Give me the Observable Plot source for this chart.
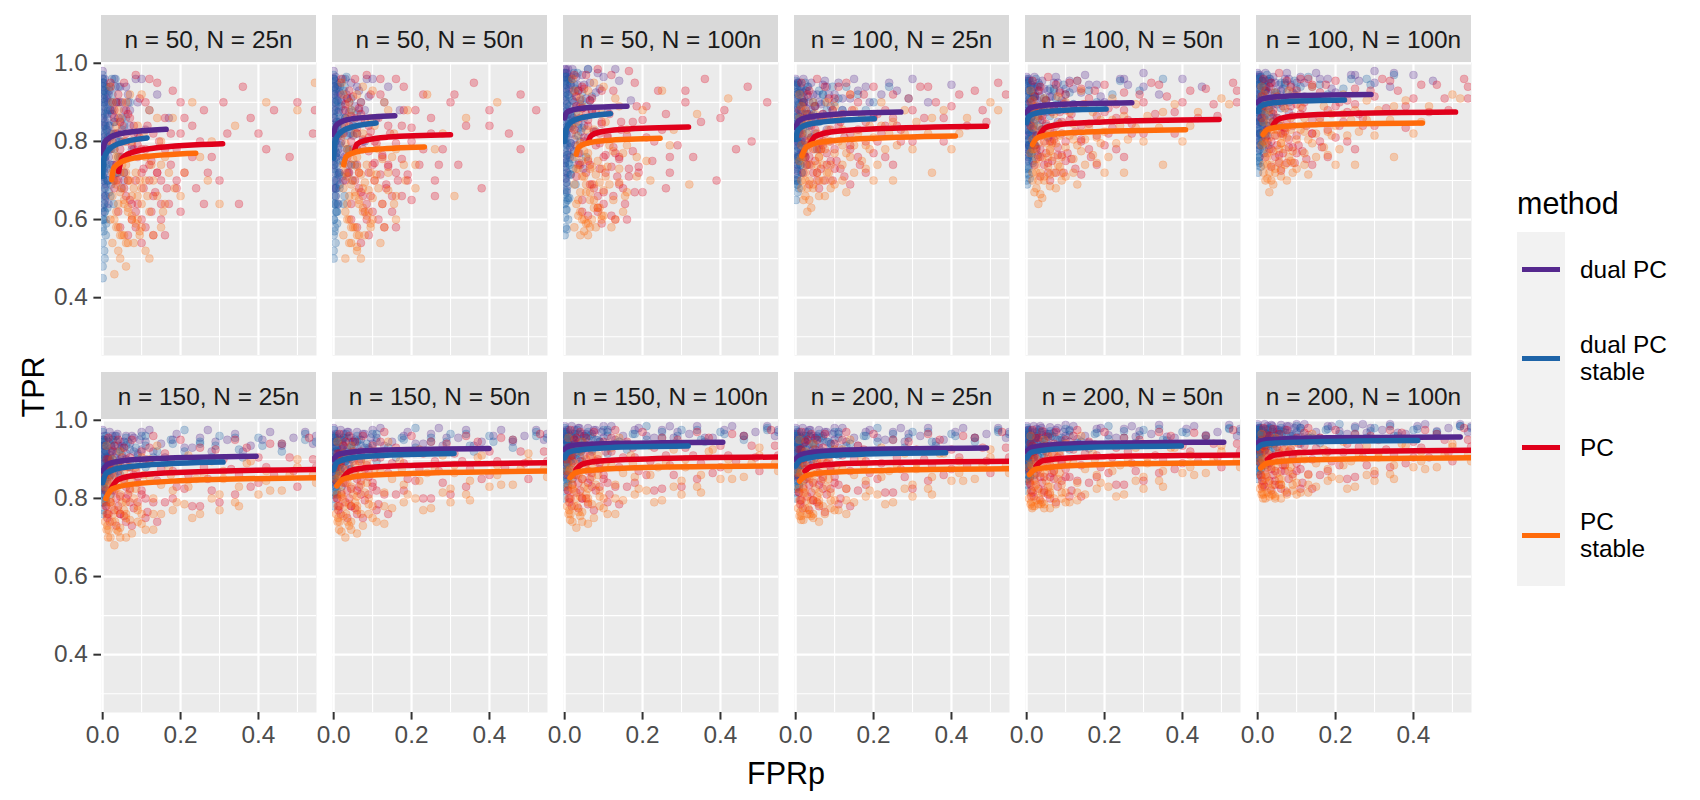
<!DOCTYPE html>
<html><head><meta charset="utf-8">
<script src="https://cdn.jsdelivr.net/npm/d3@7"></script>
<script src="https://cdn.jsdelivr.net/npm/@observablehq/plot@0.6"></script>
<style>
body{margin:0;background:#fff;font-family:"Liberation Sans",Arial,sans-serif;}
#root{position:relative;width:1700px;height:800px;overflow:hidden;background:#fff;}
.strip{position:absolute;background:#D9D9D9;color:#1A1A1A;font-size:24.4px;display:flex;align-items:center;justify-content:center;padding-top:3px;box-sizing:border-box;white-space:nowrap;}
.panel{position:absolute;}
.title{position:absolute;font-size:30.5px;color:#000;text-align:center;white-space:nowrap;}
.lgtxt{position:absolute;font-size:24.4px;color:#000;line-height:27px;white-space:nowrap;}
</style></head><body><div id="root"></div>
<script>
// ---------- data ----------
const methods = ["dual PC", "dual PC stable", "PC", "PC stable"];
const methodLabels = ["dual PC", "dual PC\nstable", "PC", "PC\nstable"];
const methodColors = ["#55288E", "#1E64A8", "#E0001B", "#FF6B0B"];
const nValues = [50, 50, 50, 100, 100, 100, 150, 150, 150, 200, 200, 200];
const NValues = ["25n", "50n", "100n", "25n", "50n", "100n", "25n", "50n", "100n", "25n", "50n", "100n"];
const xMajor = [0, 0.2, 0.4], xMinor = [0.1, 0.3, 0.5];
const yMajor = [0.4, 0.6, 0.8, 1.0], yMinor = [0.3, 0.5, 0.7, 0.9];

// fitted curves, per panel [FPRp, TPR]
const curveDualPC = [
 [[0,0.770],[0.005,0.797],[0.020,0.811],[0.057,0.822],[0.163,0.831]],
 [[0,0.817],[0.005,0.839],[0.019,0.850],[0.055,0.859],[0.157,0.866]],
 [[0,0.860],[0.005,0.874],[0.019,0.880],[0.056,0.886],[0.160,0.890]],
 [[0,0.835],[0.008,0.853],[0.032,0.862],[0.095,0.869],[0.270,0.875]],
 [[0,0.873],[0.008,0.885],[0.032,0.891],[0.095,0.895],[0.270,0.899]],
 [[0,0.899],[0.009,0.908],[0.035,0.913],[0.102,0.917],[0.291,0.920]],
 [[0,0.870],[0.012,0.887],[0.047,0.896],[0.138,0.902],[0.394,0.908]],
 [[0,0.900],[0.012,0.913],[0.048,0.919],[0.140,0.924],[0.399,0.928]],
 [[0,0.925],[0.012,0.934],[0.049,0.938],[0.142,0.941],[0.406,0.944]],
 [[0,0.900],[0.015,0.913],[0.059,0.920],[0.172,0.925],[0.490,0.929]],
 [[0,0.921],[0.015,0.931],[0.061,0.937],[0.177,0.941],[0.506,0.944]],
 [[0,0.942],[0.016,0.949],[0.062,0.952],[0.182,0.955],[0.520,0.957]]
];
const curveDualPCStable = [
 [[0,0.710],[0.003,0.755],[0.014,0.777],[0.040,0.794],[0.114,0.809]],
 [[0,0.757],[0.003,0.798],[0.013,0.818],[0.038,0.834],[0.109,0.847]],
 [[0,0.800],[0.004,0.832],[0.014,0.848],[0.041,0.860],[0.118,0.871]],
 [[0,0.805],[0.006,0.829],[0.024,0.841],[0.071,0.850],[0.202,0.858]],
 [[0,0.848],[0.006,0.864],[0.024,0.872],[0.071,0.878],[0.204,0.883]],
 [[0,0.877],[0.007,0.890],[0.027,0.897],[0.078,0.902],[0.223,0.906]],
 [[0,0.840],[0.009,0.864],[0.037,0.876],[0.108,0.885],[0.309,0.893]],
 [[0,0.874],[0.009,0.892],[0.037,0.902],[0.108,0.909],[0.309,0.915]],
 [[0,0.904],[0.010,0.918],[0.038,0.924],[0.111,0.930],[0.317,0.934]],
 [[0,0.883],[0.012,0.898],[0.046,0.906],[0.135,0.912],[0.385,0.917]],
 [[0,0.904],[0.012,0.918],[0.048,0.924],[0.139,0.930],[0.397,0.934]],
 [[0,0.929],[0.012,0.938],[0.049,0.942],[0.144,0.945],[0.411,0.948]]
];
const curvePC = [
 [[0.041,0.723],[0.049,0.755],[0.073,0.771],[0.134,0.783],[0.308,0.794]],
 [[0.053,0.774],[0.060,0.793],[0.083,0.803],[0.139,0.811],[0.300,0.817]],
 [[0.060,0.797],[0.068,0.815],[0.091,0.824],[0.150,0.831],[0.318,0.837]],
 [[0.036,0.792],[0.050,0.813],[0.090,0.824],[0.195,0.832],[0.490,0.839]],
 [[0.034,0.818],[0.048,0.835],[0.089,0.844],[0.195,0.850],[0.494,0.856]],
 [[0.040,0.843],[0.054,0.857],[0.096,0.865],[0.204,0.870],[0.508,0.875]],
 [[0.023,0.827],[0.039,0.848],[0.086,0.859],[0.207,0.867],[0.548,0.874]],
 [[0.025,0.853],[0.041,0.870],[0.088,0.879],[0.208,0.885],[0.548,0.891]],
 [[0.029,0.874],[0.045,0.888],[0.091,0.896],[0.211,0.901],[0.548,0.906]],
 [[0.024,0.870],[0.040,0.881],[0.087,0.887],[0.207,0.891],[0.548,0.895]],
 [[0.024,0.883],[0.040,0.896],[0.087,0.902],[0.207,0.907],[0.548,0.911]],
 [[0.025,0.900],[0.041,0.910],[0.088,0.916],[0.208,0.920],[0.548,0.923]]
];
const curvePCStable = [
 [[0.023,0.702],[0.029,0.733],[0.049,0.748],[0.099,0.760],[0.239,0.770]],
 [[0.026,0.740],[0.032,0.761],[0.051,0.771],[0.098,0.779],[0.233,0.786]],
 [[0.030,0.767],[0.036,0.785],[0.056,0.795],[0.105,0.802],[0.245,0.808]],
 [[0.016,0.763],[0.028,0.786],[0.063,0.798],[0.154,0.806],[0.410,0.814]],
 [[0.015,0.792],[0.027,0.809],[0.062,0.818],[0.153,0.824],[0.408,0.830]],
 [[0.014,0.818],[0.026,0.831],[0.063,0.838],[0.157,0.843],[0.423,0.847]],
 [[0.008,0.800],[0.024,0.824],[0.073,0.836],[0.197,0.845],[0.548,0.853]],
 [[0.008,0.832],[0.024,0.849],[0.073,0.858],[0.197,0.864],[0.548,0.870]],
 [[0.014,0.853],[0.030,0.867],[0.078,0.873],[0.201,0.879],[0.548,0.883]],
 [[0.010,0.844],[0.026,0.858],[0.075,0.866],[0.198,0.871],[0.548,0.876]],
 [[0.007,0.861],[0.023,0.875],[0.072,0.881],[0.196,0.887],[0.548,0.891]],
 [[0.008,0.878],[0.024,0.890],[0.073,0.896],[0.197,0.900],[0.548,0.904]]
];

// simulation points per panel, "FPRp,TPR" in thousandths
const ptsDualPC = [
 "0,980 0,960 0,940 5,920 3,900 8,880 0,860 12,860 2,840 15,900 20,940 6,820 0,800 25,880 10,800 30,960 18,840 4,760 0,740 35,820 40,900 12,720 2,700 50,860 22,780 60,940 8,660 45,760 70,880 28,700 15,640 90,820 55,700 0,620 100,960 120,880",
 "0,980 0,960 3,940 0,920 6,900 2,880 10,940 0,860 14,880 4,840 18,920 8,820 0,800 24,860 12,780 30,960 3,760 40,900 20,800 0,740 50,840 15,720 6,700 60,940 35,780 0,680 80,880 25,700 10,640 100,960 45,740 130,900",
 "0,985 0,965 3,985 6,965 0,945 9,985 4,925 12,965 0,905 15,945 7,885 20,985 0,865 25,925 10,845 30,965 3,825 40,905 18,865 0,805 50,945 14,785 60,985 35,845 6,765 0,745 80,925 25,805 100,965 45,885 2,705 130,985",
 "0,960 5,950 12,940 3,920 20,960 8,900 0,880 28,930 15,880 40,950 4,860 22,900 55,920 10,840 0,830 35,870 70,945 18,820 48,890 6,800 85,920 30,840 0,790 110,950 60,860 14,780 140,910 25,760 180,940 80,830 5,740 220,920 2,700",
 "0,965 5,955 12,945 3,930 20,965 8,910 0,895 28,940 15,895 40,955 4,875 22,915 55,930 10,860 0,850 35,885 70,950 18,840 48,905 6,825 85,930 30,860 0,815 110,955 60,880 14,800 140,925 25,785 180,945 80,850 250,960 5,770 300,940",
 "0,975 5,965 12,955 3,945 20,975 8,930 0,915 28,955 15,915 40,965 4,900 22,935 55,945 10,885 0,875 35,905 70,960 18,870 48,925 6,855 85,945 30,885 0,845 110,965 60,900 14,830 140,940 25,815 180,960 80,875 250,970 5,800 300,950 350,975",
 "0,975 4,960 10,950 2,935 18,970 7,920 0,905 26,950 14,905 38,965 3,890 22,930 55,945 10,875 0,865 35,915 75,960 18,860 50,935 6,850 95,950 30,890 120,975 80,920 150,940 190,965 230,930 270,975 320,950 380,935 430,970 490,955 540,940 0,830 60,900",
 "0,980 4,965 10,955 2,945 18,975 7,930 0,915 26,955 14,915 38,970 3,900 22,940 55,950 10,890 0,880 35,925 75,965 18,875 50,945 6,865 95,955 30,900 120,980 80,930 150,945 190,970 230,940 270,980 320,955 380,945 430,975 490,960 540,950 0,850 60,915",
 "0,985 4,975 10,965 2,955 18,985 7,945 0,935 26,965 14,935 38,980 3,925 22,955 55,965 10,915 0,905 35,945 75,975 18,900 50,960 6,890 95,970 30,925 120,985 80,950 150,960 190,980 230,955 270,985 320,965 380,955 430,985 490,970 540,960 0,875 60,935",
 "0,980 4,970 10,960 2,950 18,980 7,940 0,925 26,960 14,925 38,975 3,915 22,950 55,960 10,905 0,895 35,940 75,970 18,890 50,955 6,880 95,965 30,915 120,980 80,945 150,955 190,975 230,950 270,980 320,960 380,950 430,980 490,965 540,955 0,860 60,930",
 "0,985 4,975 10,965 2,955 18,985 7,945 0,935 26,965 14,935 38,980 3,925 22,955 55,965 10,915 0,905 35,945 75,975 18,900 50,960 6,890 95,970 30,925 120,985 80,950 150,960 190,980 230,955 270,985 320,965 380,955 430,985 490,970 540,960 0,880 60,935",
 "0,990 4,980 10,975 2,965 18,990 7,960 0,950 26,975 14,950 38,985 3,945 22,965 55,975 10,935 0,930 35,960 75,985 18,925 50,970 6,920 95,980 30,945 120,990 80,965 150,970 190,985 230,965 270,990 320,975 380,965 430,990 490,980 540,970 0,905 60,950"
];
const ptsDualPCExtra = [
 "1,950 2,930 4,910 1,890 6,870 3,850 9,830 1,810 5,790 2,770 14,810 7,750 3,730 11,910 17,930 1,710 20,880 27,820 33,940 9,690 4,680 42,800 16,760 24,740 5,640 65,900 75,780 85,960 38,720 110,830 140,920 170,860",
 "1,960 2,940 4,920 1,900 6,880 3,860 9,840 1,820 5,800 2,780 14,820 7,760 3,740 11,920 17,950 1,720 20,900 27,840 33,920 9,700 4,680 42,820 16,770 24,750 5,660 65,880 75,800 85,960 38,720 110,860 140,940 170,880",
 "1,975 2,955 4,935 1,915 6,895 3,875 9,855 1,835 5,815 2,795 14,835 7,775 3,755 11,935 17,965 1,735 20,905 27,855 33,945 9,715 4,695 42,825 16,795 24,775 5,675 65,905 75,825 85,975 38,745 110,875 140,955 170,905",
 "1,945 2,925 4,905 1,885 6,865 3,845 9,825 1,815 5,795 2,775 14,845 7,765 3,755 11,925 17,905 1,735 20,925 27,885 33,915 9,795 4,725 42,865 16,805 24,785 5,715 65,895 75,955 95,880 38,805 120,910 150,960 200,870 260,930 300,960 340,900 400,945",
 "1,955 2,935 4,915 1,895 6,880 3,865 9,845 1,835 5,815 2,800 14,865 7,790 3,785 11,940 17,920 1,780 20,940 27,905 33,930 9,820 4,760 42,880 16,830 24,810 5,750 65,915 75,965 95,900 38,830 120,935 150,970 200,900 260,945 300,975 340,920 400,960 450,940",
 "1,965 2,950 4,935 1,920 6,905 3,890 9,875 1,865 5,850 2,835 14,890 7,820 3,820 11,955 17,940 1,810 20,955 27,925 33,950 9,850 4,790 42,900 16,860 24,840 5,780 65,935 75,975 95,920 38,860 120,950 150,975 200,925 260,955 300,980 340,940 400,970 450,955",
 "1,950 2,935 5,915 1,900 8,890 3,880 12,870 1,860 6,845 15,885 4,840 20,910 30,880 45,900 60,960 70,940 90,910 110,945 130,920 160,905 180,950 210,930 250,955 290,945 340,965 360,920 410,950 460,935 520,970 548,960 25,960 40,935 100,970 280,920 3,810 8,820",
 "1,960 2,945 5,930 1,915 8,905 3,895 12,885 1,875 6,865 15,900 4,860 20,925 30,895 45,915 60,970 70,950 90,925 110,955 130,935 160,920 180,960 210,940 250,965 290,955 340,975 360,935 410,960 460,945 520,975 548,965 25,965 40,945 100,975 280,935 3,835 8,845",
 "1,970 2,960 5,950 1,940 8,930 3,920 12,910 1,900 6,890 15,925 4,885 20,945 30,920 45,935 60,980 70,965 90,945 110,970 130,950 160,940 180,975 210,960 250,975 290,970 340,985 360,955 410,975 460,960 520,985 548,975 25,975 40,960 100,985 280,955 3,860 8,870",
 "1,965 2,955 5,940 1,930 8,920 3,910 12,900 1,890 6,880 15,915 4,875 20,940 30,910 45,925 60,975 70,960 90,940 110,965 130,945 160,935 180,970 210,955 250,970 290,965 340,980 360,945 410,970 460,955 520,980 548,970 25,970 40,955 100,980 280,945 3,850 8,860",
 "1,972 2,962 5,952 1,942 8,932 3,922 12,912 1,902 6,895 15,928 4,890 20,948 30,925 45,938 60,982 70,968 90,948 110,972 130,952 160,942 180,978 210,962 250,978 290,972 340,988 360,958 410,978 460,962 520,988 548,978 25,978 40,962 100,988 280,958 3,870 8,880",
 "1,978 2,970 5,962 1,955 8,948 3,940 12,932 1,925 6,918 15,942 4,912 20,958 30,940 45,952 60,988 70,976 90,960 110,980 130,962 160,955 180,985 210,972 250,984 290,980 340,990 360,968 410,985 460,972 520,990 548,984 25,985 40,970 100,990 280,968 3,895 8,900"
];
const ptsDualPCCore = [
 "5,960 10,940 15,920 20,900 25,870 30,850 8,840 12,800 18,780 22,820 35,900 40,860 45,940 50,800 55,880 60,760 65,920 70,840 80,780 90,900 28,740 14,700 38,720 48,680 6,660",
 "5,965 10,945 15,925 20,905 25,880 30,860 8,850 12,815 18,795 22,835 35,910 40,875 45,950 50,815 55,890 60,780 65,930 70,855 80,800 90,915 28,760 14,720 38,740 48,700 6,680",
 "5,975 10,960 15,945 20,925 25,900 30,885 8,870 12,840 18,820 22,860 35,930 40,895 45,970 50,840 55,910 60,810 65,950 70,875 80,825 90,935 28,790 14,760 38,770 48,730 6,720",
 "5,950 10,930 15,910 20,890 25,870 30,940 8,850 12,830 18,810 35,900 40,880 45,920 50,860 60,900 70,870 80,940 90,890 100,920 120,880 28,790 14,770 6,760 160,930 190,900 240,950",
 "5,960 10,945 15,925 20,905 25,885 30,950 8,870 12,850 18,830 35,915 40,895 45,935 50,875 60,915 70,885 80,950 90,905 100,935 120,895 28,815 14,795 6,790 160,945 190,915 240,960",
 "5,970 10,955 15,940 20,925 25,905 30,960 8,890 12,875 18,855 35,935 40,915 45,950 50,895 60,930 70,905 80,960 90,925 100,950 120,915 28,840 14,825 6,820 160,960 190,935 240,970",
 "3,950 6,935 9,920 12,905 15,890 20,940 25,925 30,905 35,960 40,890 50,930 60,915 70,880 80,955 5,875 8,860 18,870 45,945 100,925 110,900",
 "3,960 6,945 9,930 12,920 15,905 20,950 25,935 30,920 35,970 40,905 50,945 60,930 70,900 80,965 5,890 8,880 18,890 45,955 100,940 110,915",
 "3,970 6,960 9,945 12,935 15,925 20,965 25,950 30,940 35,980 40,925 50,960 60,945 70,920 80,975 5,910 8,900 18,910 45,965 100,955 110,935",
 "3,965 6,955 9,940 12,930 15,920 20,960 25,945 30,935 35,975 40,920 50,955 60,940 70,915 80,970 5,905 8,895 18,905 45,960 100,950 110,930",
 "3,975 6,965 9,955 12,945 15,935 20,970 25,960 30,950 35,985 40,935 50,965 60,955 70,930 80,980 5,925 8,915 18,920 45,970 100,960 110,945",
 "3,980 6,972 9,962 12,955 15,948 20,978 25,968 30,960 35,988 40,950 50,975 60,965 70,945 80,985 5,940 8,932 18,935 45,978 100,970 110,958"
];
const ptsDualPCStable = [
 "0,970 0,950 2,930 0,910 4,890 0,870 7,850 0,830 3,810 10,920 0,790 14,880 5,770 0,750 18,820 0,730 9,740 25,900 0,710 3,690 12,700 0,670 30,780 6,650 0,630 40,940 2,600 20,660 0,580 8,560 0,540 4,520 55,840 35,720",
 "0,970 0,950 2,930 0,910 5,890 0,870 8,850 3,830 0,810 12,900 0,790 16,860 6,770 0,750 22,820 0,730 10,720 28,940 2,700 0,680 15,680 35,780 5,660 0,640 45,880 8,620 0,600 25,640 3,580 60,820 0,560",
 "0,975 0,955 2,935 0,915 5,895 0,875 8,955 3,855 0,835 12,915 0,815 16,875 6,795 0,775 22,855 0,755 10,745 28,935 2,735 0,715 15,715 35,815 5,695 0,675 45,905 8,655 60,985 25,775 0,640 3,625",
 "0,955 3,935 9,950 0,910 15,930 5,890 0,870 22,910 10,860 32,940 2,850 18,870 45,900 7,830 0,810 28,850 60,930 12,800 40,860 3,780 75,900 22,790 0,760 95,940 50,820 8,750 120,880 2,730 160,920 0,700 15,720 200,900 5,670",
 "0,960 3,940 9,955 0,920 15,935 5,900 0,885 22,920 10,875 32,945 2,865 18,885 45,910 7,850 0,830 28,865 60,935 12,820 40,875 3,805 75,910 22,815 0,790 95,945 50,840 8,775 120,895 2,755 160,930 0,730 15,750 220,920 0,700",
 "0,970 3,955 9,965 0,940 15,950 5,920 0,905 22,940 10,895 32,960 2,885 18,905 45,925 7,870 0,855 28,885 60,950 12,845 40,895 3,830 75,925 22,840 0,815 95,955 50,860 8,800 120,910 2,785 160,945 0,765 15,780 220,935 0,740 280,960",
 "0,970 3,950 9,960 0,930 15,945 5,910 0,895 22,935 10,885 32,960 2,875 18,900 45,925 7,860 0,845 28,880 65,945 12,840 42,895 3,820 85,930 110,960 140,920 175,950 210,975 250,940 300,960 350,925 400,955 460,940 520,965 0,790 20,810 0,760",
 "0,975 3,955 9,965 0,940 15,950 5,920 0,905 22,945 10,895 32,965 2,890 18,910 45,935 7,875 0,860 28,895 65,950 12,855 42,905 3,840 85,940 110,965 140,930 175,955 210,980 250,945 300,965 350,935 400,960 460,950 520,970 0,810 20,830 0,780",
 "0,980 3,965 9,975 0,950 15,960 5,935 0,920 22,955 10,910 32,975 2,900 18,925 45,945 7,890 0,880 28,910 65,960 12,875 42,920 3,860 85,950 110,975 140,945 175,965 210,985 250,955 300,975 350,950 400,970 460,960 520,980 0,830 20,850 0,800",
 "0,975 3,960 9,970 0,945 15,955 5,930 0,915 22,950 10,905 32,970 2,895 18,920 45,940 7,885 0,875 28,905 65,955 12,870 42,915 3,855 85,945 110,970 140,940 175,960 210,980 250,950 300,970 350,945 400,965 460,955 520,975 0,825 20,845 0,800",
 "0,980 3,965 9,975 0,950 15,960 5,935 0,920 22,955 10,910 32,975 2,900 18,925 45,945 7,890 0,880 28,910 65,960 12,875 42,920 3,860 85,950 110,975 140,945 175,965 210,985 250,955 300,975 350,950 400,970 460,960 520,980 0,845 20,860 0,820",
 "0,985 3,975 9,980 0,960 15,970 5,950 0,940 22,965 10,930 32,980 2,925 18,945 45,960 7,915 0,905 28,935 65,970 12,900 42,940 3,890 85,960 110,980 140,955 175,975 210,990 250,965 300,980 350,960 400,975 460,970 520,985 0,870 20,885 0,850"
];
const ptsDualPCStableExtra = [
 "1,960 2,940 1,920 3,900 1,880 2,860 5,840 1,820 3,800 2,780 6,760 1,740 4,720 2,700 7,680 1,660 3,640 5,620 1,600 9,590 2,570 11,830 15,780 20,740 24,960 16,940 45,800 70,900 12,630 5,500 0,480 0,450",
 "1,960 2,940 1,920 3,900 1,880 2,860 5,840 1,820 3,800 2,780 6,760 1,740 4,720 2,700 7,680 1,660 3,640 5,620 1,600 9,590 2,570 11,840 15,790 20,750 24,960 16,940 45,820 70,900 12,640 5,540 0,520 0,500",
 "1,965 2,945 1,925 3,905 1,885 2,865 5,845 1,825 3,805 2,785 6,765 1,745 4,725 2,705 7,685 1,665 3,645 5,625 1,605 9,600 2,580 11,845 15,795 20,755 24,975 16,955 45,835 70,915 12,655 5,575 0,560",
 "1,945 2,925 1,900 3,880 1,860 2,840 5,820 1,800 3,775 2,755 6,740 1,720 4,705 2,690 7,760 1,650 11,840 15,800 20,760 24,950 16,900 45,870 70,920 12,740 5,700 30,820 55,780 80,860 100,900 130,940 180,880 240,940 290,910",
 "1,950 2,930 1,910 3,895 1,875 2,860 5,840 1,820 3,800 2,780 6,765 1,750 4,735 2,720 7,790 1,690 11,860 15,820 20,790 24,960 16,915 45,890 70,935 12,770 5,730 30,840 55,810 80,880 100,920 130,955 180,900 240,955 290,930 350,960",
 "1,960 2,945 1,925 3,910 1,890 2,875 5,860 1,845 3,825 2,805 6,790 1,775 4,760 2,750 7,820 1,720 11,880 15,850 20,820 24,970 16,930 45,910 70,950 12,800 5,760 30,865 55,840 80,900 100,935 130,965 180,920 240,960 290,945 350,970",
 "1,945 2,925 5,905 1,885 8,870 3,860 12,855 1,840 6,825 15,870 4,810 20,895 30,860 45,885 60,955 70,925 90,900 110,935 130,905 160,890 180,940 210,920 250,945 290,935 340,955 360,905 410,935 460,920 520,950 548,945 25,950 40,920 100,960 280,905 3,790 8,800 1,770",
 "1,955 2,935 5,920 1,900 8,885 3,875 12,870 1,860 6,845 15,885 4,830 20,910 30,875 45,900 60,960 70,935 90,915 110,945 130,920 160,905 180,950 210,930 250,955 290,945 340,965 360,920 410,945 460,930 520,960 548,955 25,955 40,930 100,965 280,920 3,815 8,820 1,800",
 "1,965 2,950 5,940 1,925 8,915 3,905 12,895 1,885 6,870 15,910 4,855 20,935 30,900 45,925 60,970 70,955 90,935 110,960 130,940 160,925 180,965 210,950 250,970 290,960 340,975 360,945 410,965 460,950 520,975 548,970 25,965 40,950 100,975 280,940 3,840 8,845 1,820",
 "1,960 2,945 5,935 1,920 8,905 3,895 12,885 1,875 6,860 15,900 4,845 20,925 30,890 45,915 60,965 70,950 90,925 110,955 130,935 160,920 180,960 210,945 250,965 290,955 340,970 360,935 410,960 460,945 520,970 548,965 25,960 40,940 100,970 280,930 3,830 8,835 1,815",
 "1,968 2,952 5,942 1,928 8,918 3,908 12,898 1,888 6,875 15,912 4,860 20,938 30,905 45,928 60,972 70,958 90,938 110,962 130,942 160,928 180,968 210,952 250,972 290,962 340,978 360,948 410,968 460,952 520,978 548,972 25,968 40,952 100,978 280,942 3,850 8,855 1,835",
 "1,975 2,962 5,955 1,945 8,935 3,925 12,918 1,910 6,895 15,930 4,880 20,952 30,922 45,945 60,980 70,968 90,952 110,972 130,955 160,942 180,978 210,965 250,980 290,972 340,985 360,960 410,978 460,965 520,985 548,980 25,978 40,965 100,985 280,955 3,870 8,875 1,860"
];
const ptsDualPCStableCore = [
 "3,950 6,930 9,900 12,870 15,840 18,810 4,790 7,760 10,730 13,700 16,670 20,880 25,920 30,850 35,800 40,760 45,900 50,830 55,720 60,860 22,690 28,640 5,620 8,600 33,960",
 "3,955 6,935 9,905 12,875 15,850 18,820 4,800 7,770 10,740 13,715 16,690 20,890 25,930 30,860 35,815 40,780 45,910 50,845 55,740 60,870 22,710 28,660 5,640 8,620 33,965",
 "3,965 6,945 9,920 12,890 15,865 18,840 4,820 7,790 10,765 13,740 16,715 20,905 25,945 30,875 35,835 40,800 45,925 50,860 55,760 60,890 22,730 28,690 5,670 8,650 33,975",
 "3,940 6,920 9,895 12,870 15,850 18,830 4,810 7,785 10,760 13,740 16,720 20,900 25,930 30,870 35,840 40,810 50,890 60,850 70,920 80,880 22,770 28,740 5,690 8,680 110,910",
 "3,950 6,930 9,910 12,885 15,865 18,845 4,830 7,805 10,785 13,765 16,745 20,915 25,940 30,885 35,855 40,830 50,905 60,865 70,930 80,895 22,790 28,765 5,715 8,705 110,925",
 "3,960 6,945 9,925 12,905 15,885 18,865 4,850 7,830 10,810 13,790 16,770 20,930 25,955 30,905 35,875 40,850 50,920 60,885 70,945 80,910 22,815 28,790 5,745 8,735 110,940",
 "2,945 5,925 8,905 11,885 14,870 17,855 20,920 25,900 30,880 35,945 40,870 50,910 60,935 70,895 3,830 6,810 9,790 45,860 90,915 110,880",
 "2,955 5,935 8,920 11,900 14,885 17,870 20,930 25,915 30,895 35,955 40,885 50,925 60,945 70,910 3,850 6,830 9,810 45,875 90,930 110,895",
 "2,965 5,950 8,935 11,920 14,905 17,890 20,945 25,930 30,915 35,965 40,905 50,940 60,960 70,925 3,870 6,850 9,835 45,895 90,945 110,915",
 "2,960 5,945 8,930 11,915 14,900 17,885 20,940 25,925 30,910 35,960 40,900 50,935 60,955 70,920 3,865 6,845 9,830 45,890 90,940 110,910",
 "2,970 5,958 8,945 11,930 14,918 17,905 20,955 25,940 30,925 35,970 40,915 50,950 60,965 70,935 3,885 6,870 9,855 45,905 90,955 110,925",
 "2,975 5,965 8,955 11,942 14,932 17,922 20,965 25,952 30,940 35,978 40,930 50,960 60,972 70,948 3,905 6,890 9,878 45,925 90,965 110,940"
];
const ptsPC = [
 "20,950 40,920 60,880 30,860 50,840 80,820 110,900 140,950 25,800 45,780 70,760 100,780 130,820 160,860 200,900 35,740 55,720 85,700 120,740 150,700 190,780 230,840 260,880 30,680 60,660 90,640 130,660 170,640 210,720 280,760 320,820 40,620 75,600 110,580 150,600 240,680 300,700 380,860 440,880 65,560 100,540 350,640 500,900 420,780",
 "20,960 40,930 70,900 30,880 55,860 90,840 120,920 160,960 25,820 45,800 75,780 105,800 140,840 180,880 230,920 35,760 60,740 90,720 125,760 160,720 200,800 250,860 300,900 30,700 65,680 95,660 135,680 175,660 220,740 280,780 340,840 45,640 80,620 115,600 150,620 260,700 320,740 400,880 480,920 60,580 90,560 380,680 450,820 70,540",
 "25,970 45,940 70,910 30,890 55,870 95,850 125,930 165,980 25,830 50,810 80,790 110,810 145,850 185,890 240,930 35,770 60,750 90,730 130,770 165,730 210,810 260,870 310,900 30,710 65,690 100,670 140,690 180,670 225,750 290,790 350,850 45,650 85,630 120,610 155,640 270,720 330,760 410,880 470,940 60,610 95,590 390,700 440,780",
 "15,950 30,920 50,890 75,940 100,910 130,950 20,860 40,840 65,860 90,830 120,870 160,900 200,940 250,920 25,800 45,780 70,800 100,780 140,820 180,850 230,880 290,910 340,940 30,740 55,720 80,740 115,730 160,760 210,800 270,830 330,860 400,890 460,930 520,950 35,690 60,680 95,700 140,690 250,740 380,800 490,850 20,720 180,720",
 "15,955 30,930 50,905 75,945 100,920 130,955 20,875 40,855 65,875 90,850 120,885 160,910 200,945 250,925 25,815 45,800 70,820 100,800 140,840 180,865 230,895 290,920 340,945 30,760 55,745 80,765 115,755 160,780 210,820 270,845 330,870 400,900 460,935 530,950 35,710 60,700 95,720 140,715 250,760 380,820 490,865 20,740 180,740 540,900",
 "15,960 30,940 50,915 75,955 100,930 130,960 20,890 40,870 65,890 90,865 120,900 160,925 200,955 250,935 25,830 45,815 70,835 100,815 140,855 180,880 230,905 290,930 340,955 30,780 55,765 80,785 115,775 160,800 210,840 270,860 330,885 400,910 460,945 530,960 35,735 60,725 95,745 140,740 250,780 380,835 490,880 20,760 180,760 540,910",
 "15,955 30,935 50,905 75,950 100,920 130,960 20,880 40,860 65,880 90,855 120,890 160,915 200,950 250,930 25,820 45,805 70,825 100,810 140,845 180,870 230,900 290,925 340,950 30,770 55,755 80,775 115,765 160,790 210,825 270,850 330,875 400,905 460,940 530,955 35,730 60,740 140,740 250,780 380,830 490,870 20,790 540,900 440,860",
 "15,965 30,945 50,920 75,960 100,935 130,970 20,895 40,875 65,895 90,870 120,905 160,930 200,960 250,945 25,840 45,825 70,845 100,830 140,865 180,890 230,915 290,940 340,960 30,790 55,775 80,795 115,785 160,810 210,845 270,870 330,895 400,920 460,950 530,965 35,750 60,760 140,760 250,800 380,850 490,890 20,810 540,920 440,880",
 "15,975 30,955 50,935 75,970 100,945 130,975 20,910 40,895 65,910 90,890 120,920 160,945 200,970 250,955 25,860 45,850 70,865 100,850 140,880 180,905 230,930 290,950 340,970 30,815 55,800 80,820 115,810 160,830 210,860 270,885 330,910 400,935 460,960 530,975 35,775 60,785 140,785 250,825 380,865 490,905 20,835 540,935 440,895",
 "15,970 30,950 50,925 75,965 100,940 130,970 20,900 40,885 65,900 90,880 120,910 160,935 200,965 250,950 25,850 45,840 70,855 100,840 140,870 180,895 230,920 290,945 340,965 30,805 55,790 80,810 115,800 160,820 210,850 270,875 330,900 400,925 460,955 530,970 35,770 60,780 140,780 250,815 380,860 490,895 20,825 540,930 440,885",
 "15,975 30,955 50,935 75,970 100,950 130,975 20,910 40,895 65,915 90,895 120,925 160,945 200,970 250,955 25,865 45,855 70,870 100,855 140,885 180,910 230,930 290,950 340,970 30,825 55,810 80,830 115,820 160,840 210,865 270,890 330,910 400,935 460,960 530,975 35,795 60,800 140,805 250,835 380,875 490,905 20,845 540,940 440,895",
 "15,980 30,960 50,945 75,975 100,955 130,980 20,925 40,910 65,925 90,910 120,935 160,955 200,975 250,965 25,880 45,870 70,885 100,870 140,900 180,920 230,940 290,960 340,975 30,845 55,835 80,850 115,840 160,860 210,885 270,905 330,925 400,945 460,965 530,980 35,820 60,825 140,825 250,855 380,890 490,915 20,860 540,950 440,905"
];
const ptsPCExtra = [
 "35,900 55,950 85,970 95,910 70,860 40,820 60,800 90,790 115,840 145,800 175,820 210,860 250,800 35,700 50,760 65,700 75,640 105,680 125,620 140,720 165,680 200,620 230,760 270,720 45,580 85,580 130,560 160,560 190,680 260,640 310,900 360,940 400,820 480,760 545,880 540,820 120,960 180,930 100,720",
 "35,910 55,960 85,970 95,920 70,870 40,840 60,820 90,810 115,860 145,820 175,840 210,880 250,820 35,720 50,780 65,720 75,660 105,700 125,640 140,740 165,700 200,650 230,780 270,740 45,600 85,600 130,580 160,580 190,700 260,660 310,920 360,950 400,840 480,780 520,880 100,740 120,960 180,940",
 "35,930 55,970 85,985 95,930 70,880 40,860 60,840 90,820 115,870 145,830 175,850 210,890 250,830 35,740 50,800 65,740 75,680 105,720 125,660 140,760 165,710 200,670 230,800 270,760 45,620 85,620 130,600 160,600 190,720 260,680 310,930 360,960 400,860 480,800 520,900 100,760 120,970 180,950",
 "35,930 55,960 85,910 110,940 70,870 40,810 60,780 90,800 115,850 145,880 175,920 210,870 250,860 35,760 50,750 65,730 75,700 105,750 125,710 140,780 165,740 200,770 230,840 270,800 300,880 320,940 360,900 420,920 480,880 540,920 20,770 10,820 10,880 380,860 440,840 300,800 230,760 100,860 140,920",
 "35,940 55,965 85,925 110,950 70,890 40,830 60,800 90,820 115,870 145,895 175,930 210,885 250,880 35,780 50,770 65,750 75,720 105,770 125,730 140,800 165,760 200,790 230,860 270,820 300,900 320,950 360,915 420,930 480,895 540,930 20,790 10,840 10,900 380,875 440,860 300,820 230,780 100,880 140,935",
 "35,950 55,975 85,940 110,960 70,905 40,850 60,820 90,840 115,885 145,910 175,945 210,900 250,895 35,800 50,790 65,770 75,745 105,790 125,755 140,820 165,785 200,810 230,875 270,840 300,915 320,960 360,930 420,945 480,910 540,940 20,810 10,860 10,915 380,890 440,875 300,840 230,800 100,895 140,945",
 "5,860 8,820 10,780 12,750 15,900 25,920 40,950 55,930 70,905 85,870 105,890 120,930 150,875 175,900 190,830 220,860 260,880 280,820 310,900 350,860 370,930 420,880 430,940 480,905 500,830 548,880 60,800 90,790 130,790 180,800 230,780 300,790 340,810 400,840 15,760 45,760 75,730 110,750",
 "5,880 8,840 10,800 12,770 15,915 25,935 40,960 55,945 70,920 85,885 105,905 120,945 150,890 175,915 190,850 220,875 260,895 280,840 310,915 350,875 370,945 420,895 430,955 480,920 500,850 548,895 60,820 90,810 130,810 180,820 230,800 300,810 340,830 400,860 15,780 45,780 75,750 110,770",
 "5,900 8,860 10,820 12,790 15,930 25,950 40,970 55,955 70,935 85,900 105,920 120,955 150,905 175,930 190,870 220,895 260,910 280,860 310,930 350,890 370,955 420,910 430,965 480,935 500,870 548,910 60,840 90,830 130,830 180,840 230,820 300,830 340,850 400,880 15,800 45,800 75,770 110,790",
 "5,895 8,855 10,815 12,785 15,925 25,945 40,965 55,950 70,930 85,895 105,915 120,950 150,900 175,925 190,865 220,890 260,905 280,855 310,925 350,885 370,950 420,905 430,960 480,930 500,865 548,905 60,835 90,825 130,825 180,835 230,815 300,825 340,845 400,875 15,795 45,795 75,765 110,785",
 "5,910 8,870 10,835 12,805 15,935 25,955 40,972 55,958 70,940 85,910 105,930 120,960 150,915 175,938 190,880 220,905 260,920 280,870 310,938 350,900 370,960 420,920 430,968 480,940 500,880 548,920 60,855 90,845 130,845 180,855 230,835 300,845 340,865 400,890 15,815 45,815 75,790 110,805",
 "5,925 8,890 10,855 12,830 15,945 25,962 40,978 55,965 70,950 85,925 105,940 120,968 150,928 175,950 190,895 220,918 260,932 280,885 310,950 350,912 370,968 420,930 430,975 480,950 500,895 548,932 60,870 90,862 130,862 180,870 230,850 300,862 340,880 400,905 15,835 45,835 75,815 110,825"
];
const ptsPCCore = [
 "30,880 45,850 60,820 75,790 90,760 105,730 120,700 135,670 150,640 40,700 55,680 70,650 85,620 100,600 50,900 65,870 80,840 95,810 110,780 125,750 140,720 160,780 175,740 190,700 200,820",
 "30,895 45,865 60,835 75,805 90,775 105,745 120,715 135,690 150,660 40,720 55,700 70,670 85,640 100,620 50,915 65,885 80,855 95,825 110,795 125,765 140,735 160,795 175,755 190,715 200,835",
 "30,915 45,885 60,855 75,825 90,795 105,765 120,735 135,710 150,680 40,740 55,720 70,690 85,660 100,640 50,935 65,905 80,875 95,845 110,815 125,785 140,755 160,815 175,775 190,735 200,855",
 "20,900 30,870 40,850 50,830 60,810 70,790 80,770 90,750 100,730 25,760 35,740 45,720 55,700 65,780 75,820 85,860 95,880 110,840 125,810 140,790 160,830 180,800 200,860 220,820 260,840",
 "20,915 30,885 40,865 50,845 60,825 70,805 80,785 90,765 100,750 25,780 35,760 45,740 55,720 65,800 75,840 85,875 95,895 110,855 125,825 140,805 160,845 180,815 200,875 220,835 260,855",
 "20,930 30,900 40,880 50,860 60,840 70,825 80,805 90,785 100,770 25,800 35,780 45,760 55,745 65,820 75,855 85,890 95,910 110,870 125,840 140,820 160,860 180,830 200,890 220,850 260,870",
 "10,900 15,880 20,860 25,840 30,820 35,800 40,780 45,760 50,880 55,850 60,830 65,810 70,790 80,860 90,840 100,820 110,800 8,780 12,760 18,740",
 "10,915 15,895 20,880 25,860 30,840 35,820 40,800 45,780 50,895 55,870 60,850 65,830 70,810 80,875 90,855 100,840 110,820 8,800 12,780 18,760",
 "10,930 15,910 20,895 25,880 30,860 35,840 40,820 45,800 50,910 55,890 60,870 65,850 70,830 80,895 90,875 100,860 110,840 8,820 12,800 18,780",
 "10,925 15,905 20,890 25,875 30,855 35,835 40,815 45,795 50,905 55,885 60,865 65,845 70,825 80,890 90,870 100,855 110,835 8,815 12,795 18,775",
 "10,940 15,920 20,905 25,890 30,875 35,855 40,840 45,820 50,920 55,900 60,885 65,865 70,850 80,905 90,890 100,875 110,855 8,840 12,820 18,805",
 "10,950 15,932 20,918 25,905 30,890 35,875 40,860 45,845 50,932 55,915 60,900 65,885 70,870 80,920 90,905 100,890 110,875 8,860 12,845 18,830"
];
const ptsPCStable = [
 "25,900 45,860 70,920 30,820 55,800 90,840 120,880 35,760 60,740 85,720 110,760 150,800 180,860 30,700 50,680 75,660 100,680 130,700 170,720 40,640 65,620 90,600 120,620 200,660 250,760 35,580 55,560 80,540 110,520 150,580 300,640 45,500 20,600 230,900 500,880 270,700",
 "25,920 45,880 75,940 30,840 55,820 95,860 130,900 35,780 60,760 85,740 115,780 155,820 190,880 30,720 50,700 75,680 105,700 140,720 180,740 40,660 65,640 90,620 125,640 210,680 260,780 35,600 55,580 80,560 45,540 60,520 160,600 310,660 240,920 70,500",
 "25,930 45,890 75,950 30,850 55,830 95,870 130,910 35,790 60,770 85,750 115,790 160,830 200,880 30,730 50,710 75,690 105,710 140,730 185,760 40,670 65,650 90,630 125,650 220,700 270,790 35,610 55,590 80,580 50,570 150,620 320,690 250,930 70,600",
 "10,920 25,880 45,900 70,860 100,890 140,920 15,820 35,800 55,820 85,800 120,830 170,860 220,900 280,880 20,760 40,740 60,760 90,740 130,770 180,790 240,820 310,850 380,880 25,700 45,680 70,700 100,690 150,720 210,740 300,780 420,820 20,650 40,630 60,660 130,670 350,720 500,900 30,620 250,700",
 "10,930 25,890 45,910 70,870 100,900 140,930 15,835 35,815 55,835 85,815 120,845 170,875 220,910 280,895 20,780 40,760 60,780 90,760 130,790 180,810 240,840 310,865 380,895 25,720 45,700 70,720 100,710 150,740 210,760 300,800 420,840 20,670 40,655 60,685 130,690 350,740 500,910 30,640 250,720",
 "10,940 25,905 45,925 70,885 100,915 140,940 15,850 35,830 55,850 85,830 120,860 170,890 220,920 280,905 20,795 40,775 60,795 90,775 130,805 180,825 240,855 310,880 380,905 25,740 45,720 70,740 100,730 150,760 210,780 300,815 420,850 20,700 40,690 60,710 130,715 350,760 500,920 30,670 250,740",
 "10,935 25,900 45,920 70,880 100,905 140,935 15,845 35,825 55,845 85,825 120,855 170,880 220,910 280,895 20,790 40,770 60,790 90,770 130,800 180,820 240,850 310,870 380,895 25,740 45,725 70,745 100,735 150,760 210,785 300,810 420,845 20,700 40,715 60,700 130,720 350,780 500,900 30,680 250,760 460,820 540,860",
 "10,945 25,915 45,935 70,895 100,920 140,945 15,860 35,840 55,860 85,840 120,870 170,895 220,925 280,910 20,805 40,785 60,805 90,785 130,815 180,835 240,865 310,885 380,910 25,755 45,740 70,760 100,750 150,775 210,800 300,825 420,860 20,715 40,730 60,710 130,735 350,795 500,915 30,700 250,775 460,835 540,875",
 "10,955 25,925 45,945 70,910 100,935 140,955 15,875 35,860 55,875 85,860 120,885 170,910 220,935 280,925 20,825 40,805 60,825 90,805 130,835 180,855 240,880 310,900 380,925 25,780 45,765 70,785 100,775 150,795 210,820 300,845 420,875 20,740 40,755 60,735 130,760 350,815 500,930 30,725 250,795 460,855 540,890",
 "10,950 25,920 45,940 70,900 100,925 140,950 15,865 35,850 55,865 85,850 120,875 170,900 220,930 280,915 20,815 40,795 60,815 90,795 130,825 180,845 240,870 310,890 380,915 25,775 45,760 70,780 100,770 150,790 210,810 300,835 420,865 20,745 40,755 60,740 130,760 350,810 500,925 30,760 250,790 460,850 540,885",
 "10,960 25,930 45,950 70,915 100,940 140,960 15,880 35,865 55,880 85,865 120,890 170,915 220,940 280,930 20,830 40,815 60,830 90,815 130,840 180,860 240,885 310,905 380,930 25,795 45,785 70,800 100,790 150,810 210,830 300,855 420,880 20,780 40,790 60,775 130,795 350,830 500,935 30,785 250,810 460,865 540,900",
 "10,965 25,940 45,955 70,925 100,945 140,965 15,895 35,880 55,895 85,880 120,900 170,925 220,945 280,935 20,850 40,835 60,850 90,835 130,860 180,875 240,895 310,915 380,935 25,815 45,805 70,820 100,810 150,830 210,850 300,870 420,895 20,800 40,810 60,800 130,815 350,850 500,940 30,805 250,830 460,880 540,910"
];
const ptsPCStableExtra = [
 "20,940 40,880 60,900 100,920 35,840 75,800 105,820 140,860 160,760 45,720 65,700 95,700 115,660 150,740 185,680 25,660 35,620 55,640 75,600 100,580 130,560 160,640 210,720 45,560 65,540 95,560 25,540 40,520 60,480 30,460 120,500 280,800 340,840 420,900 545,950",
 "20,950 40,900 60,920 100,930 35,860 75,820 105,840 140,880 160,780 45,740 65,720 95,720 115,680 150,760 185,700 25,680 35,640 55,660 75,620 100,600 130,580 160,660 210,740 45,580 65,560 95,580 25,560 40,540 60,530 30,500 120,540 280,820 340,860 420,900",
 "20,960 40,910 60,930 100,940 35,870 75,830 105,850 140,890 160,790 45,750 65,730 95,730 115,690 150,770 185,710 25,690 35,650 55,670 75,630 100,610 130,600 160,670 210,750 45,600 65,580 95,600 25,580 40,560 60,560 120,580 280,830 340,870 420,910",
 "15,890 30,850 50,870 80,900 110,860 150,880 190,840 30,780 50,800 75,780 110,800 150,790 200,810 250,850 15,790 25,740 55,720 85,720 120,740 170,750 260,790 340,820 30,680 60,700 90,680 120,700 180,730 230,780 280,820 350,860 440,860 520,880 15,700 10,750 35,650 75,660 200,700 400,780",
 "15,905 30,865 50,885 80,915 110,875 150,895 190,855 30,795 50,815 75,795 110,815 150,805 200,825 250,865 15,805 25,755 55,735 85,735 120,755 170,765 260,805 340,835 30,700 60,715 90,700 120,720 180,745 230,795 280,835 350,875 440,875 520,895 15,720 10,770 35,665 75,680 200,720 400,800",
 "15,920 30,880 50,900 80,930 110,890 150,910 190,870 30,810 50,830 75,810 110,830 150,820 200,840 250,880 15,820 25,770 55,750 85,750 120,770 170,785 260,825 340,855 30,720 60,730 90,720 120,740 180,765 230,815 280,855 350,890 440,890 520,910 15,740 10,790 35,700 75,700 200,740 400,820",
 "5,830 8,790 10,760 12,730 15,880 25,860 40,890 55,870 70,850 85,880 105,860 120,900 150,835 175,860 190,790 220,830 260,860 280,800 310,850 350,830 370,890 420,870 430,820 480,860 500,880 548,840 60,760 90,740 130,760 180,770 230,750 300,770 340,790 400,810 15,720 45,700 75,710 110,720",
 "5,850 8,810 10,780 12,750 15,895 25,875 40,905 55,885 70,865 85,895 105,875 120,915 150,850 175,875 190,810 220,845 260,875 280,815 310,865 350,845 370,905 420,885 430,835 480,875 500,895 548,855 60,780 90,760 130,780 180,790 230,770 300,790 340,810 400,830 15,740 45,720 75,730 110,740",
 "5,870 8,830 10,800 12,770 15,910 25,890 40,920 55,900 70,880 85,910 105,890 120,930 150,865 175,890 190,825 220,860 260,890 280,830 310,880 350,860 370,920 420,900 430,850 480,890 500,910 548,870 60,800 90,780 130,800 180,810 230,790 300,810 340,830 400,850 15,760 45,740 75,750 110,760",
 "5,865 8,825 10,795 12,765 15,905 25,885 40,915 55,895 70,875 85,905 105,885 120,925 150,860 175,885 190,820 220,855 260,885 280,825 310,875 350,855 370,915 420,895 430,845 480,885 500,905 548,865 60,795 90,775 130,795 180,805 230,785 300,805 340,825 400,845 15,755 45,750 75,760 110,770",
 "5,880 8,845 10,815 12,790 15,920 25,900 40,930 55,910 70,890 85,920 105,900 120,938 150,875 175,900 190,840 220,870 260,900 280,845 310,890 350,870 370,930 420,910 430,860 480,900 500,920 548,880 60,815 90,800 130,815 180,825 230,805 300,825 340,845 400,865 15,780 45,775 75,785 110,790",
 "5,895 8,860 10,835 12,815 15,932 25,915 40,940 55,922 70,905 85,932 105,915 120,950 150,890 175,915 190,855 220,885 260,912 280,860 310,905 350,885 370,940 420,920 430,875 480,912 500,932 548,895 60,835 90,820 130,835 180,845 230,825 300,845 340,862 400,880 15,810 45,800 75,810 110,815"
];
const ptsPCStableCore = [
 "20,800 30,780 40,760 50,740 60,720 70,700 80,680 90,660 100,640 25,720 35,690 45,670 55,650 65,630 75,610 85,590 95,570 110,700 125,740 140,660 155,620 30,600 40,580 50,560 60,540",
 "20,815 30,795 40,775 50,755 60,735 70,715 80,695 90,675 100,655 25,740 35,710 45,690 55,670 65,650 75,630 85,610 95,590 110,715 125,755 140,675 155,640 30,620 40,600 50,580 60,560",
 "20,835 30,815 40,795 50,775 60,755 70,735 80,715 90,695 100,675 25,760 35,730 45,710 55,690 65,670 75,650 85,630 95,610 110,735 125,775 140,695 155,660 30,640 40,620 50,600 60,590",
 "10,860 20,840 30,820 40,800 50,780 60,760 70,740 80,720 90,700 15,760 25,720 35,700 45,690 55,740 65,780 75,800 85,830 100,770 120,790 140,760 160,820 190,780 220,840 15,680 25,660",
 "10,875 20,855 30,835 40,815 50,795 60,775 70,760 80,740 90,720 15,780 25,740 35,720 45,710 55,760 65,795 75,815 85,845 100,785 120,805 140,775 160,835 190,795 220,855 15,700 25,680",
 "10,890 20,870 30,850 40,830 50,815 60,795 70,780 80,760 90,745 15,800 25,760 35,740 45,730 55,780 65,815 75,835 85,860 100,805 120,825 140,795 160,850 190,815 220,870 15,720 25,705",
 "8,860 12,840 16,820 20,800 24,780 28,760 32,740 36,720 40,840 45,810 50,790 55,770 60,750 70,820 80,800 90,780 100,760 6,740 10,720 14,700",
 "8,875 12,855 16,835 20,815 24,800 28,780 32,760 36,740 40,855 45,830 50,810 55,790 60,770 70,835 80,815 90,800 100,780 6,760 10,740 14,720",
 "8,890 12,870 16,850 20,835 24,820 28,800 32,780 36,765 40,870 45,850 50,830 55,810 60,790 70,855 80,835 90,820 100,800 6,780 10,760 14,745",
 "8,885 12,865 16,845 20,830 24,815 28,795 32,775 36,760 40,865 45,845 50,825 55,805 60,785 70,850 80,830 90,815 100,795 6,775 10,755 14,745",
 "8,900 12,885 16,865 20,850 24,835 28,820 32,800 36,785 40,885 45,865 50,845 55,830 60,810 70,870 80,850 90,835 100,815 6,800 10,785 14,775",
 "8,915 12,900 16,885 20,870 24,855 28,840 32,825 36,810 40,900 45,882 50,865 55,850 60,835 70,885 80,870 90,855 100,840 6,825 10,810 14,800"
];

// ---------- build ----------
const curves = [curveDualPC, curveDualPCStable, curvePC, curvePCStable];
const points = [
  [ptsDualPC, ptsDualPCExtra, ptsDualPCCore],
  [ptsDualPCStable, ptsDualPCStableExtra, ptsDualPCStableCore],
  [ptsPC, ptsPCExtra, ptsPCCore],
  [ptsPCStable, ptsPCStableExtra, ptsPCStableCore]
];
const parsePts = s => s.trim().split(/\s+/).map(p => p.split(",").map(v => +v / 1000));

const root = document.getElementById("root");
const PW = 215, PH = 293;
const colLeft = [101, 332, 563, 794, 1025, 1256];
const rowTop = [62, 419];
const STRIP = 47;
const font = "'Liberation Sans', Arial, sans-serif";
const fmt = d3.format(".1f");

nValues.forEach((n, i) => {
  const row = Math.floor(i / 6), col = i % 6;
  const mL = col === 0 ? 80 : 0;
  const mB = row === 1 ? 50 : 0;
  const strip = document.createElement("div");
  strip.className = "strip";
  strip.style.left = colLeft[col] + "px";
  strip.style.top = (rowTop[row] - STRIP) + "px";
  strip.style.width = PW + "px";
  strip.style.height = STRIP + "px";
  strip.textContent = `n = ${n}, N = ${NValues[i]}`;
  root.appendChild(strip);

  const marks = [
    Plot.frame({fill: "#EBEBEB", stroke: "none"}),
    Plot.ruleX(xMinor, {stroke: "#fff", strokeWidth: 1.1}),
    Plot.ruleY(yMinor, {stroke: "#fff", strokeWidth: 1.1}),
    Plot.ruleX(xMajor, {stroke: "#fff", strokeWidth: 2.2}),
    Plot.ruleY(yMajor, {stroke: "#fff", strokeWidth: 2.2})
  ];
  points.forEach((sets, m) => {
    const data = parsePts(sets.map(s => s[i]).join(" "));
    marks.push(Plot.dot(data, {x: d => d[0], y: d => d[1], r: 4, fill: methodColors[m], fillOpacity: 0.28, stroke: methodColors[m], strokeOpacity: 0.22, strokeWidth: 0.8, clip: true}));
  });
  curves.forEach((arr, m) => {
    marks.push(Plot.line(arr[i], {x: d => d[0], y: d => d[1], stroke: methodColors[m], strokeWidth: 5.5, curve: "monotone-x", clip: true}));
  });
  if (col === 0) marks.push(Plot.axisY(yMajor, {tickSize: 7.6, tickPadding: 6, fontSize: 24.4, color: "#4D4D4D", stroke: "#333333", strokeWidth: 2, tickFormat: fmt, label: null}));
  if (row === 1) marks.push(Plot.axisX(xMajor, {tickSize: 7.6, tickPadding: 6, fontSize: 24.4, color: "#4D4D4D", stroke: "#333333", strokeWidth: 2, tickFormat: fmt, label: null}));

  const chart = Plot.plot({
    width: PW + mL, height: PH + mB,
    marginLeft: mL, marginRight: 0, marginTop: 0, marginBottom: mB,
    x: {domain: [-0.003, 0.549], axis: null},
    y: {domain: [0.252, 1.002], axis: null},
    style: {fontFamily: font, background: "transparent", overflow: "visible"},
    marks
  });
  chart.classList.add("panel");
  chart.style.left = (colLeft[col] - mL) + "px";
  chart.style.top = rowTop[row] + "px";
  root.appendChild(chart);
});

// axis titles
const ty = document.createElement("div");
ty.className = "title";
ty.textContent = "TPR";
Object.assign(ty.style, {left: "-17px", top: "369px", width: "100px", height: "36px", lineHeight: "36px", transform: "rotate(-90deg)"});
root.appendChild(ty);
const tx = document.createElement("div");
tx.className = "title";
tx.textContent = "FPRp";
Object.assign(tx.style, {left: "686px", top: "755px", width: "200px", height: "36px", lineHeight: "36px"});
root.appendChild(tx);

// legend
const lt = document.createElement("div");
lt.className = "title";
lt.textContent = "method";
Object.assign(lt.style, {left: "1517px", top: "188px", lineHeight: "30.5px", textAlign: "left"});
root.appendChild(lt);
const box = document.createElement("div");
Object.assign(box.style, {position: "absolute", left: "1517px", top: "232px", width: "48px", height: "354px", background: "#F2F2F2"});
root.appendChild(box);
const keyY = [269, 358, 447, 535];
methods.forEach((m, k) => {
  const ln = document.createElement("div");
  Object.assign(ln.style, {position: "absolute", left: "1522px", top: (keyY[k] - 2.5) + "px", width: "38px", height: "5px", background: methodColors[k]});
  root.appendChild(ln);
  const lines = methodLabels[k].split("\n");
  const tt = document.createElement("div");
  tt.className = "lgtxt";
  tt.innerHTML = lines.join("<br>");
  const h = lines.length * 27;
  Object.assign(tt.style, {left: "1580px", top: (keyY[k] - h / 2) + "px"});
  root.appendChild(tt);
});
</script></body></html>
